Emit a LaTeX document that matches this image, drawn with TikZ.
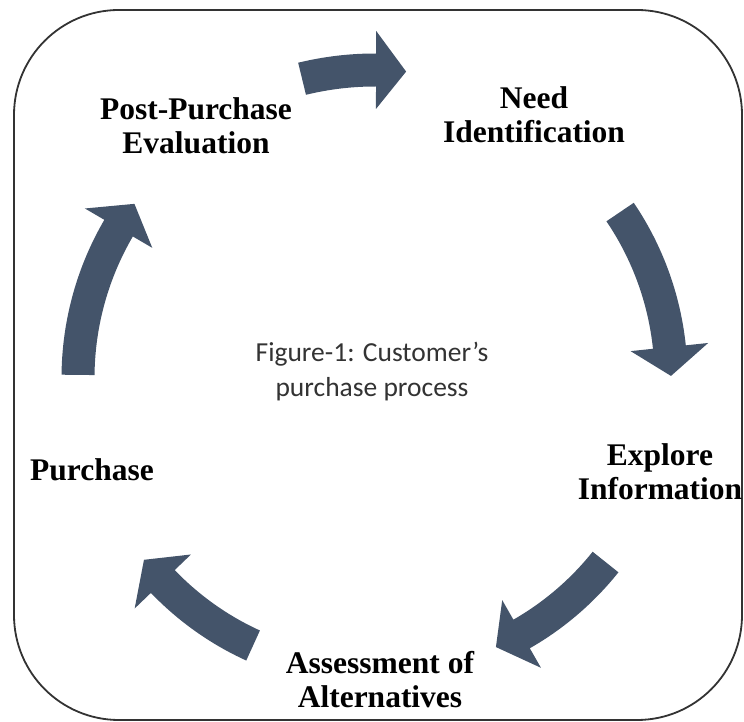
\documentclass[tikz,border=0pt]{standalone}
\usepackage{fontspec}
\setmainfont{Liberation Serif}
\newfontfamily\capfont{Carlito}
\usetikzlibrary{calc}
\definecolor{arrowblue}{HTML}{44546A}
\definecolor{framegray}{HTML}{333333}
\tikzset{
  stagelabel/.style={font=\bfseries\fontsize{31.5}{34}\selectfont, align=center, inner sep=0pt, text=black},
  captionlabel/.style={font=\capfont\fontsize{27.5}{35}\selectfont, align=center, inner sep=0pt, text=black!80},
  arrowfill/.style={fill=arrowblue},
  frame/.style={draw=framegray, line width=1.8pt, rounded corners=105pt}
}
% #1 mid radius, #2 tail angle, #3 head-base angle (clockwise arrows)
\newcommand\cyclearrow[3]{%
  \fill[arrowfill] ($(C)+({#2}:{#1+16.5})$)
    arc[start angle={#2}, end angle={#3}, radius={#1+16.5}]
    -- ($(C)+({#3}:{#1+39})$)
    -- ($(C)+({#3-5.6}:{#1})$)
    -- ($(C)+({#3}:{#1-39})$)
    -- ($(C)+({#3}:{#1-16.5})$)
    arc[start angle={#3}, end angle={#2}, radius={#1-16.5}]
    -- cycle;}
\begin{document}
\begin{tikzpicture}[x=1pt,y=1pt]
\useasboundingbox (0,0) rectangle (744,722);
\draw[frame] (14,2) rectangle (742,712);
\coordinate (C) at (375,344);
\cyclearrow{308}{103.7}{89.8}
\cyclearrow{296}{34.1}{6.0}
\cyclearrow{295}{-38.6}{-60.2}
\cyclearrow{294}{-114.5}{-136.2}
\cyclearrow{297}{-180.6}{-210.3}
\node[stagelabel] (post) at (196,596) {Post-Purchase\\Evaluation};
\node[stagelabel] (need) at (534,607) {Need\\Identification};
\node[stagelabel] (explore) at (660,250) {Explore\\Information};
\node[stagelabel] (purchase) at (92,252) {Purchase};
\node[stagelabel] (assess) at (380,42) {Assessment of\\Alternatives};
\node[captionlabel] (cap) at (372,350) {Figure-1: Customer’s\\purchase process};
\end{tikzpicture}
\end{document}
